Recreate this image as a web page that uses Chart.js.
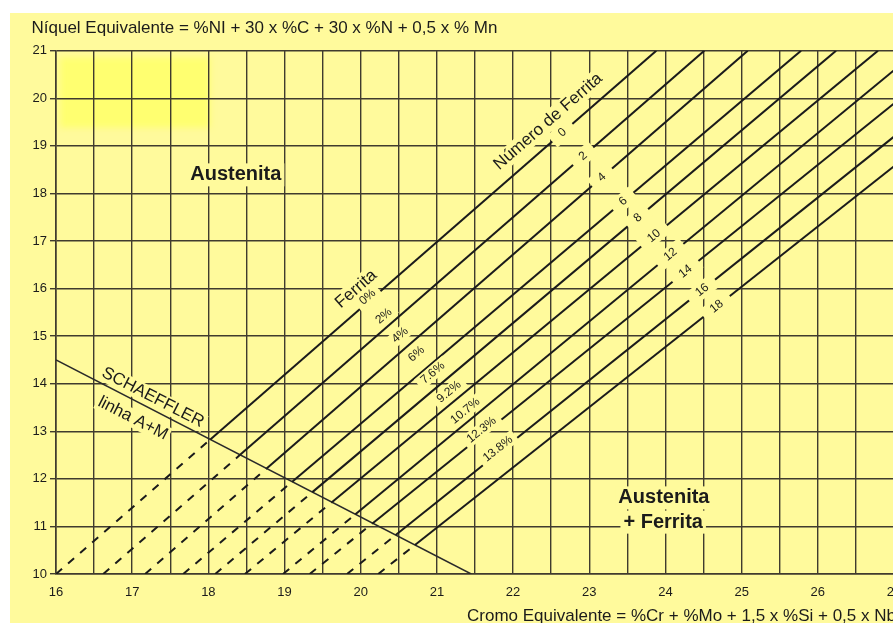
<!DOCTYPE html>
<html>
<head>
<meta charset="utf-8">
<script src="https://cdn.jsdelivr.net/npm/chart.js@4.4.1/dist/chart.umd.min.js"></script>
<style>
  html, body { margin: 0; padding: 0; background: #ffffff; overflow: hidden; width: 893px; height: 623px; }
  #panel { position: absolute; left: 10px; top: 13px; width: 950px; height: 610px; background: #FFFA9C; }
  canvas { display: block; }
</style>
</head>
<body>
<div id="panel"><canvas id="c" width="950" height="610"></canvas></div>
<script>
// Axis ranges (Cr equivalent horizontally, Ni equivalent vertically)
const crRange = [16, 27];
const niRange = [10, 21];

// Iso-ferrite lines: Cr equivalent where each one meets Ni eq = 10 and Ni eq = 21
const ferriteNumbers = [0, 2, 4, 6, 8, 10, 12, 14, 16, 18];
const crAtNi10 = [16.00, 16.62, 17.17, 17.67, 18.09, 18.48, 18.98, 19.33, 19.82, 20.23];
const crAtNi21 = [23.88, 24.51, 25.08, 25.78, 26.24, 26.79, 27.31, 27.86, 28.41, 28.92];
const ferritePercent = ['0%', '2%', '4%', '6%', '7.6%', '9.2%', '10.7%', '12.3%', '13.8%'];

// Schaeffler austenite + martensite boundary
const schaefflerCr = [16, 21.45];
const schaefflerNi = [14.5, 10];

// Text placement (data units)
const percentRow = { cr: [20.09, 21.80], ni: [15.82, 12.63] };
const numberBand = { cr: [22.65, 24.68], ni: [19.27, 15.61] };
const regionText = [
  { text: 'Austenita', cr: 18.36, ni: 18.39 },
  { text: 'Austenita', cr: 23.98, ni: 11.60 },
  { text: '+ Ferrita', cr: 23.97, ni: 11.09 }
];
const glowPatch = { cr: [16.05, 18.02], ni: [19.38, 20.86] };

const INK = '#1b1b1b';
const GRID = '#403b2e';
const PAPER = '#FFFA9C';
const FONT = "'Liberation Sans', Arial, sans-serif";

const niSpan = niRange[1] - niRange[0];
const sSlope = (schaefflerNi[0] - schaefflerNi[1]) / (schaefflerCr[1] - schaefflerCr[0]);

// Where ferrite line i crosses the Schaeffler boundary
function schaefflerCross(i) {
  const a = crAtNi10[i], k = niSpan / (crAtNi21[i] - a);
  const cr = (schaefflerNi[0] + sSlope * schaefflerCr[0] - niRange[0] + k * a) / (k + sSlope);
  return { x: cr, y: niRange[0] + k * (cr - a) };
}

// Where ferrite line i crosses a label band
function bandCross(i, band) {
  const a = crAtNi10[i], q = (crAtNi21[i] - a) / niSpan;
  const r = (band.cr[1] - band.cr[0]) / (band.ni[1] - band.ni[0]);
  const ni = (band.cr[0] - band.ni[0] * r - a + niRange[0] * q) / (q - r);
  return { cr: a + (ni - niRange[0]) * q, ni };
}

const datasets = ferriteNumbers.map((fn, i) => ({
  label: 'FN ' + fn,
  data: [
    { x: crAtNi10[i], y: niRange[0] },
    schaefflerCross(i),
    { x: crAtNi21[i], y: niRange[1] }
  ],
  showLine: true,
  borderColor: INK,
  borderWidth: 2,
  borderDash: [],
  pointRadius: 0,
  segment: { borderDash: ctx => ctx.p0DataIndex === 0 ? [8, 8] : undefined }
}));
datasets.push({
  label: 'Schaeffler A+M',
  data: schaefflerCr.map((c, i) => ({ x: c, y: schaefflerNi[i] })),
  showLine: true,
  borderColor: '#2a2a2a',
  borderWidth: 1.5,
  pointRadius: 0
});

function tag(ctx, text, px, py, angle, font, padX, padY, size) {
  ctx.save();
  ctx.translate(px, py);
  ctx.rotate(angle);
  ctx.font = font;
  const w = ctx.measureText(text).width;
  ctx.fillStyle = PAPER;
  ctx.fillRect(-w / 2 - padX, -size / 2 - padY, w + 2 * padX, size + 2 * padY);
  ctx.fillStyle = INK;
  ctx.textAlign = 'center';
  ctx.textBaseline = 'middle';
  ctx.fillText(text, 0, 0);
  ctx.restore();
}

const diagramText = {
  id: 'diagramText',
  beforeDraw(chart) {
    const { ctx, scales: { x, y } } = chart;
    const x0 = x.getPixelForValue(glowPatch.cr[0]), x1 = x.getPixelForValue(glowPatch.cr[1]);
    const y0 = y.getPixelForValue(glowPatch.ni[1]), y1 = y.getPixelForValue(glowPatch.ni[0]);
    ctx.save();
    ctx.filter = 'blur(3px)';
    ctx.fillStyle = '#FFFF70';
    ctx.fillRect(x0, y0, x1 - x0, y1 - y0);
    ctx.restore();
  },
  afterDatasetsDraw(chart) {
    const { ctx, scales: { x, y } } = chart;
    const angleOf = i => Math.atan2(
      y.getPixelForValue(niRange[1]) - y.getPixelForValue(niRange[0]),
      x.getPixelForValue(crAtNi21[i]) - x.getPixelForValue(crAtNi10[i]));
    const small = '12px ' + FONT;

    // Scale headings first, so the numbers stay on top
    const big = '17px ' + FONT;
    tag(ctx, 'Número de Ferrita', x.getPixelForValue(22.46), y.getPixelForValue(19.51), angleOf(0), big, 3, 1, 17);
    tag(ctx, 'Ferrita', x.getPixelForValue(19.94), y.getPixelForValue(15.99), angleOf(0), big, 3, 1, 17);

    // Ferrite number scale, each number sitting in a break of its line
    ferriteNumbers.forEach((fn, i) => {
      const p = bandCross(i, numberBand);
      tag(ctx, String(fn), x.getPixelForValue(p.cr), y.getPixelForValue(p.ni), angleOf(i), small, 10, 2, 12);
    });

    // Ferrite percent scale, evenly spaced along its row
    const n = ferritePercent.length - 1;
    ferritePercent.forEach((pct, i) => {
      const cr = percentRow.cr[0] + (percentRow.cr[1] - percentRow.cr[0]) * i / n;
      const ni = percentRow.ni[0] + (percentRow.ni[1] - percentRow.ni[0]) * i / n;
      tag(ctx, pct, x.getPixelForValue(cr), y.getPixelForValue(ni), angleOf(i), small, 5, 1, 12);
    });

    const sAngle = Math.atan2(
      y.getPixelForValue(schaefflerNi[1]) - y.getPixelForValue(schaefflerNi[0]),
      x.getPixelForValue(schaefflerCr[1]) - x.getPixelForValue(schaefflerCr[0]));
    const mid = '17px ' + FONT;
    tag(ctx, 'SCHAEFFLER', x.getPixelForValue(17.27), y.getPixelForValue(13.71), sAngle, mid, 2, 1, 16);
    tag(ctx, 'linha A+M', x.getPixelForValue(17.01), y.getPixelForValue(13.27), sAngle, mid, 2, 1, 16);

    const bold = 'bold 20px ' + FONT;
    regionText.forEach(t => tag(ctx, t.text, x.getPixelForValue(t.cr), y.getPixelForValue(t.ni), 0, bold, 3, 2, 19));
  },
  afterDraw(chart) {
    const ctx = chart.ctx;
    ctx.save();
    ctx.fillStyle = INK;
    ctx.font = '17px ' + FONT;
    ctx.textAlign = 'left';
    ctx.textBaseline = 'alphabetic';
    ctx.fillText('Níquel Equivalente = %NI + 30 x %C + 30 x %N + 0,5 x % Mn', 21.5, 19.8);
    ctx.fillText('Cromo Equivalente = %Cr + %Mo + 1,5 x %Si + 0,5 x Nb', 457, 608);
    ctx.restore();
  }
};

new Chart(document.getElementById('c'), {
  type: 'scatter',
  data: { datasets },
  options: {
    responsive: false,
    animation: false,
    devicePixelRatio: 1,
    layout: { padding: { top: 37.7, right: 66, left: 0, bottom: 0 } },
    plugins: { legend: { display: false }, tooltip: { enabled: false }, title: { display: false } },
    scales: {
      x: {
        type: 'linear',
        min: crRange[0], max: crRange[1],
        afterFit: s => { s.height = 49; },
        ticks: {
          stepSize: 0.5, autoSkip: false, maxRotation: 0, padding: 11,
          color: INK, font: { family: FONT, size: 13 },
          callback: v => Number.isInteger(v) ? String(v) : ''
        },
        grid: { color: GRID, lineWidth: 1.4, drawTicks: false },
        border: { color: GRID, width: 1.6 }
      },
      y: {
        type: 'linear',
        min: niRange[0], max: niRange[1],
        afterFit: s => { s.width = 46; },
        ticks: { stepSize: 1, padding: 3, color: INK, font: { family: FONT, size: 13 } },
        grid: { color: GRID, lineWidth: 1.4, tickLength: 6 },
        border: { color: GRID, width: 1.6 }
      }
    }
  },
  plugins: [diagramText]
});
</script>
</body>
</html>
